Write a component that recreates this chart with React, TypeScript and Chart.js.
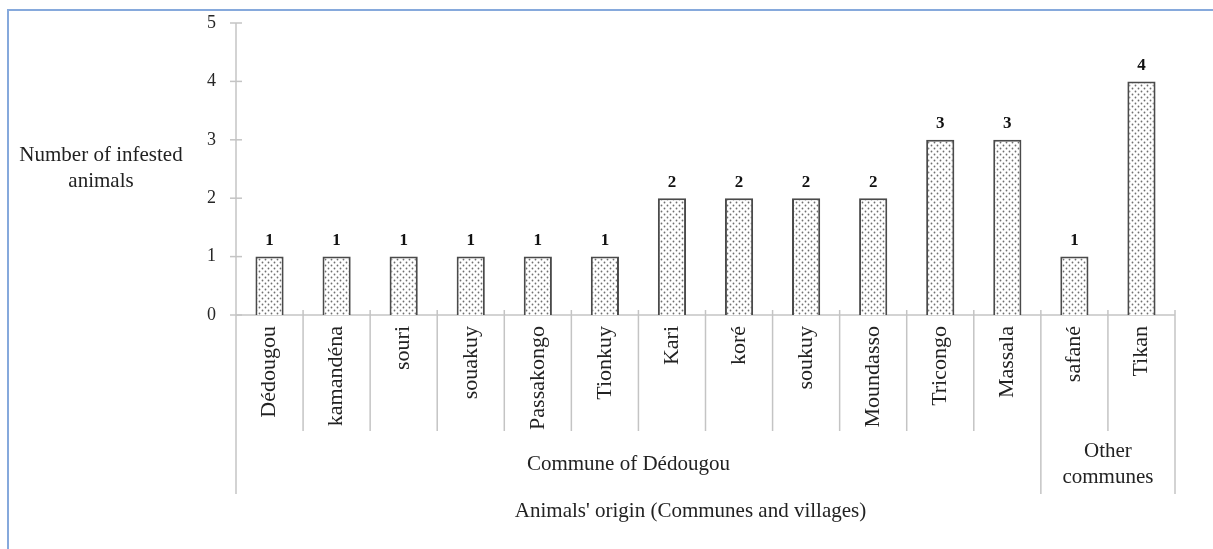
import React, { useEffect, useRef } from "react";
import { Chart, registerables } from "chart.js";

Chart.register(...registerables);

const categories = [
  "Dédougou", "kamandéna", "souri", "souakuy", "Passakongo", "Tionkuy",
  "Kari", "koré", "soukuy", "Moundasso", "Tricongo", "Massala", "safané", "Tikan",
];
const infested = [1, 1, 1, 1, 1, 1, 2, 2, 2, 2, 3, 3, 1, 4];
const yTicks = [0, 1, 2, 3, 4, 5];
const groupLabels = [["Commune of Dédougou"], ["Other", "communes"]];
const groupSizes = [12, 2];
const yTitle = ["Number of infested", "animals"];
const xTitle = "Animals' origin (Communes and villages)";

const FONT = "'Liberation Serif', 'Times New Roman', serif";

function makePattern(): CanvasPattern | string {
  const c = document.createElement("canvas");
  c.width = 6;
  c.height = 6;
  const g = c.getContext("2d");
  if (!g) return "#ddd";
  g.fillStyle = "#ffffff";
  g.fillRect(0, 0, 6, 6);
  g.fillStyle = "#6f6f6f";
  g.beginPath();
  g.arc(1.5, 1.5, 0.9, 0, Math.PI * 2);
  g.arc(4.5, 4.5, 0.9, 0, Math.PI * 2);
  g.fill();
  const p = g.createPattern(c, "repeat");
  return p || "#ddd";
}

const decorPlugin = {
  id: "decor",
  beforeDatasetsDraw(chart: any) {
    const ctx = chart.ctx;
    const { left, right, bottom } = chart.chartArea;
    const xs = chart.scales.x;
    const ys = chart.scales.y;
    const axisColor = "#c4c4c4";
    ctx.save();
    ctx.strokeStyle = axisColor;
    ctx.lineWidth = 1.5;
    ctx.beginPath();
    ctx.moveTo(left, ys.getPixelForValue(yTicks[yTicks.length - 1]));
    ctx.lineTo(left, bottom + 179);
    ctx.stroke();
    ctx.fillStyle = "#262626";
    ctx.font = `18px ${FONT}`;
    ctx.textAlign = "right";
    ctx.textBaseline = "middle";
    yTicks.forEach((v) => {
      const y = ys.getPixelForValue(v);
      ctx.beginPath();
      ctx.moveTo(left - 6, y);
      ctx.lineTo(left + 6, y);
      ctx.stroke();
      ctx.fillText(String(v), left - 20, y);
    });
    ctx.beginPath();
    ctx.moveTo(left, bottom);
    ctx.lineTo(right, bottom);
    ctx.stroke();
    const n = categories.length;
    const step = xs.getPixelForValue(1) - xs.getPixelForValue(0);
    const bounds: number[] = [];
    for (let i = 0; i <= n; i++) bounds.push(xs.getPixelForValue(i) - step / 2);
    const groupEdges = [0];
    groupSizes.forEach((s) => groupEdges.push(groupEdges[groupEdges.length - 1] + s));
    for (let i = 1; i <= n; i++) {
      const isGroup = groupEdges.includes(i);
      ctx.beginPath();
      ctx.moveTo(bounds[i], bottom - 5);
      ctx.lineTo(bounds[i], isGroup ? bottom + 179 : bottom + 116);
      ctx.stroke();
    }
    ctx.fillStyle = "#222";
    ctx.font = `22px ${FONT}`;
    categories.forEach((c, i) => {
      ctx.save();
      ctx.translate(xs.getPixelForValue(i), bottom + 11);
      ctx.rotate(-Math.PI / 2);
      ctx.textAlign = "right";
      ctx.textBaseline = "middle";
      ctx.fillText(c, 0, 0);
      ctx.restore();
    });
    ctx.font = `21px ${FONT}`;
    ctx.textAlign = "center";
    ctx.textBaseline = "middle";
    groupLabels.forEach((lines, g) => {
      const x0 = bounds[groupEdges[g]];
      const x1 = bounds[groupEdges[g + 1]];
      const cx = (x0 + x1) / 2 + (lines.length === 1 ? -10 : 0);
      const lh = 26;
      const y0 = bottom + 149 - ((lines.length - 1) * lh) / 2;
      lines.forEach((t, k) => ctx.fillText(t, cx, y0 + k * lh));
    });
    ctx.fillText(xTitle, (left + right) / 2 - 15, bottom + 196);
    yTitle.forEach((t, k) => ctx.fillText(t, 101, 155 + k * 26));
    ctx.restore();
  },
  afterDatasetsDraw(chart: any) {
    const ctx = chart.ctx;
    const meta = chart.getDatasetMeta(0);
    ctx.save();
    ctx.fillStyle = "#111";
    ctx.font = `bold 17px ${FONT}`;
    ctx.textAlign = "center";
    ctx.textBaseline = "middle";
    meta.data.forEach((bar: any, i: number) => {
      ctx.fillText(String(infested[i]), bar.x, bar.y - 16);
    });
    ctx.restore();
  },
};

export default function App() {
  const ref = useRef<HTMLCanvasElement | null>(null);
  useEffect(() => {
    if (!ref.current) return;
    const chart = new Chart(ref.current, {
      type: "bar",
      data: {
        labels: categories,
        datasets: [
          {
            data: infested,
            backgroundColor: makePattern() as any,
            borderColor: "#4a4a4a",
            borderWidth: 2,
            barPercentage: 0.42,
            categoryPercentage: 1,
          },
        ],
      },
      options: {
        responsive: false,
        animation: false,
        layout: { padding: { left: 236, right: 38, top: 23, bottom: 234 } },
        scales: {
          x: { display: false },
          y: { display: false, min: 0, max: 5 },
        },
        plugins: { legend: { display: false }, tooltip: { enabled: false } },
      },
      plugins: [decorPlugin],
    });
    return () => chart.destroy();
  }, []);
  return (
    <div style={{ position: "fixed", left: 0, top: 0, width: 1213, height: 549, overflow: "hidden", background: "#fff" }}>
      <div
        style={{
          position: "absolute",
          left: 7,
          top: 9,
          width: 1300,
          height: 700,
          border: "2px solid #86a9dc",
        }}
      />
      <canvas ref={ref} width={1213} height={549} style={{ position: "absolute", left: 0, top: 0 }} />
    </div>
  );
}
